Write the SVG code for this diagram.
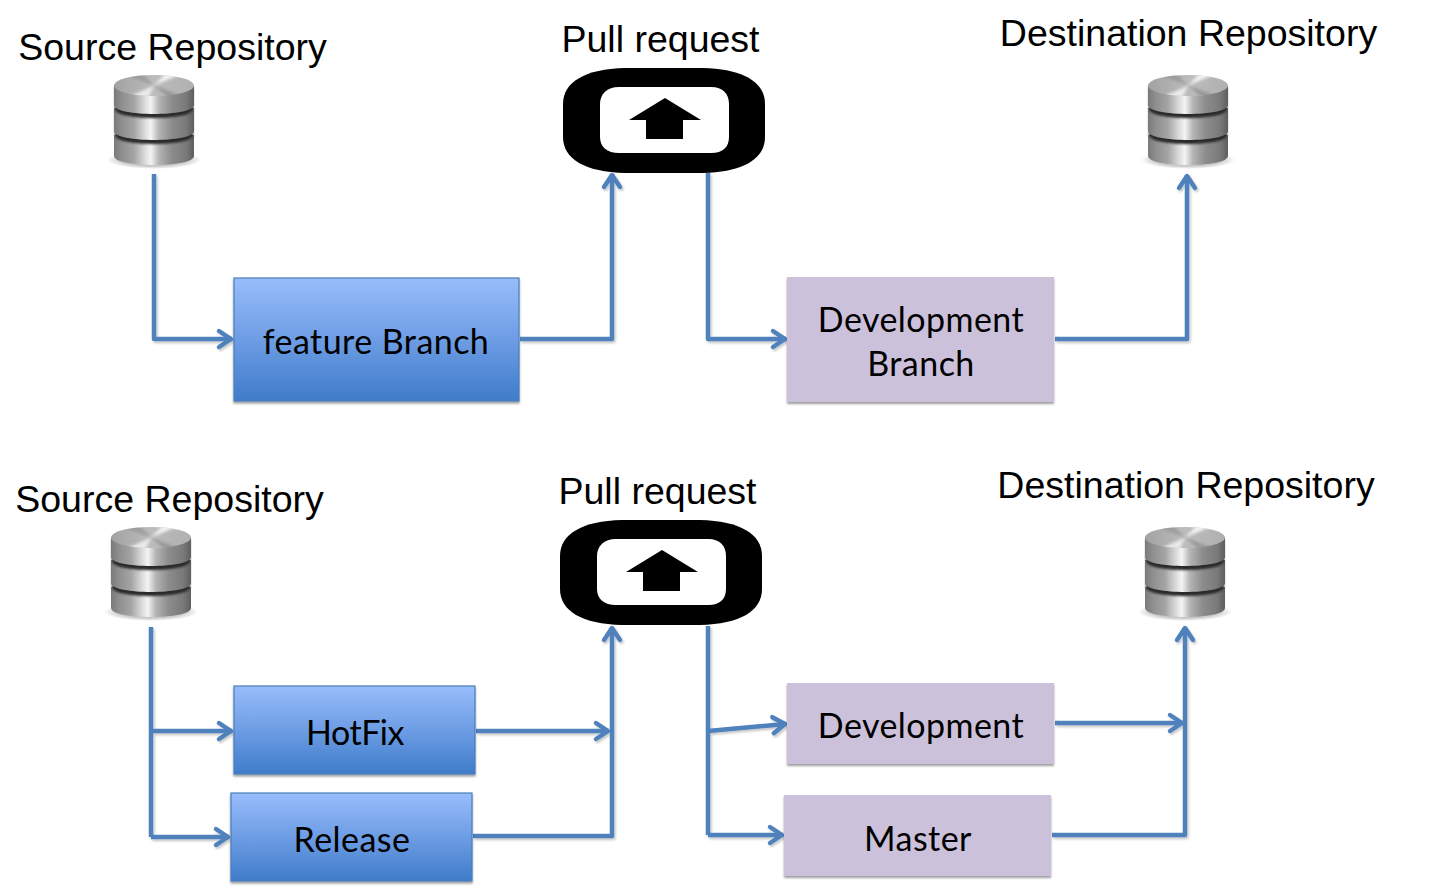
<svg xmlns="http://www.w3.org/2000/svg" xmlns:xlink="http://www.w3.org/1999/xlink" width="1443" height="892" viewBox="0 0 1443 892">
<style>
.title{font-family:"Liberation Sans",Arial,sans-serif;font-size:37.500px;fill:#000;text-anchor:middle}
.lbl{font-family:Lato,"Open Sans",sans-serif;font-size:34px;letter-spacing:.45px;fill:#000;text-anchor:middle}
.blue{fill:url(#bg);stroke:#4a7ebb;stroke-width:1.2;filter:url(#sh)}
.lil{fill:#ccc1da;filter:url(#sh)}
.c{fill:none;stroke:#4f81bd;stroke-width:4.500;stroke-linejoin:round}
</style>
<defs>
<linearGradient id="bg" x1="0" y1="0" x2="0" y2="1"><stop offset="0" stop-color="#98bdfb"/><stop offset=".5" stop-color="#6d9de4"/><stop offset="1" stop-color="#3f7cca"/></linearGradient>
<linearGradient id="metal" x1="0" y1="0" x2="1" y2="0"><stop offset="0" stop-color="#7a7a7a"/><stop offset=".1" stop-color="#8f8f8f"/><stop offset=".25" stop-color="#a4a4a4"/><stop offset=".38" stop-color="#d8d8d8"/><stop offset=".46" stop-color="#f4f4f4"/><stop offset=".56" stop-color="#b5b5b5"/><stop offset=".72" stop-color="#8c8c8c"/><stop offset=".9" stop-color="#7a7a7a"/><stop offset="1" stop-color="#5e5e5e"/></linearGradient>
<linearGradient id="disk" x1="0" y1="0" x2="1" y2="0"><stop offset="0" stop-color="#a2a2a2"/><stop offset=".5" stop-color="#bcbcbc"/><stop offset="1" stop-color="#b0b0b0"/></linearGradient>
<radialGradient id="gl"><stop offset="0" stop-color="#000" stop-opacity=".38"/><stop offset=".7" stop-color="#000" stop-opacity=".2"/><stop offset="1" stop-color="#000" stop-opacity="0"/></radialGradient>
<filter id="sh" filterUnits="userSpaceOnUse" x="0" y="0" width="1443" height="892"><feDropShadow dx="0" dy="2" stdDeviation="1.300" flood-color="#000" flood-opacity=".38"/></filter>
<filter id="csh" filterUnits="userSpaceOnUse" x="0" y="0" width="1443" height="892"><feDropShadow dx="1.500" dy="2" stdDeviation="1.300" flood-color="#000" flood-opacity=".22"/></filter>
<filter id="soft" x="-10%" y="-20%" width="120%" height="140%"><feGaussianBlur stdDeviation=".8"/></filter>
<filter id="wedge" x="-20%" y="-40%" width="140%" height="180%"><feGaussianBlur stdDeviation="1.600"/></filter>
<marker id="ah" markerUnits="userSpaceOnUse" markerWidth="26" markerHeight="26" refX="20" refY="13" orient="auto"><path d="M7 5 L19 13 L7 21" fill="none" stroke="#4f81bd" stroke-width="4.500" stroke-linecap="round" stroke-linejoin="round"/></marker>
<clipPath id="top"><ellipse cx="40" cy="10.500" rx="40" ry="10.500"/></clipPath>
<g id="db">
<ellipse cx="40" cy="85" rx="47" ry="9" fill="url(#gl)"/>
<path d="M0 60 V81 C0 93 80 93 80 81 V60 Z" fill="url(#metal)"/>
<path d="M1 36 V60 C1 72 79 72 79 60 V36 Z" fill="#2a2a2a" filter="url(#soft)"/>
<path d="M0 33 V56 C0 68 80 68 80 56 V33 Z" fill="url(#metal)"/>
<path d="M1 12 V34 C1 46 79 46 79 34 V12 Z" fill="#2a2a2a" filter="url(#soft)"/>
<path d="M0 10 V30 C0 42 80 42 80 30 V10 Z" fill="url(#metal)"/>
<ellipse cx="40" cy="10.500" rx="40" ry="10.500" fill="url(#disk)"/>
<g clip-path="url(#top)"><g filter="url(#wedge)">
<path d="M40 10.500 L6 -2 L28 -2 Z" fill="#8e8e8e" opacity=".6"/>
<path d="M40 10.500 L52 -2 L70 -2 Z" fill="#f2f2f2"/>
<path d="M40 10.500 L10 24 L34 24 Z" fill="#eaeaea"/>
<path d="M40 10.500 L56 24 L76 24 Z" fill="#8a8a8a" opacity=".7"/>
</g></g>
</g>
<g id="pr">
<path d="M62 0 H140 C180 1 202 14 202 36 V69 C202 91 180 104 140 105 H62 C22 104 0 91 0 69 V36 C0 14 22 1 62 0 Z" fill="#000"/>
<path d="M56 19 H148 C160 19 166 26 166 36 V69 C166 79 160 85 148 85 H56 C44 85 37 79 37 69 V36 C37 26 44 19 56 19 Z" fill="#fff"/>
<path d="M102 30 L138 52 H120 V71 H83 V52 H66 Z" fill="#000"/>
</g>
</defs>
<rect width="1443" height="892" fill="#fff"/>
<g id="connectors" filter="url(#csh)">
<path class="c" marker-end="url(#ah)" d="M154 174 V339 H232"/>
<path class="c" marker-end="url(#ah)" d="M520 339 H612 V174"/>
<path class="c" marker-end="url(#ah)" d="M708 173 V339 H786"/>
<path class="c" marker-end="url(#ah)" d="M1055 339 H1187 V175"/>
<path class="c" d="M151 627 V837"/>
<path class="c" marker-end="url(#ah)" d="M151 731 H232"/>
<path class="c" marker-end="url(#ah)" d="M151 837 H229"/>
<path class="c" marker-end="url(#ah)" d="M476 731 H609"/>
<path class="c" marker-end="url(#ah)" d="M473 836 H612 V627"/>
<path class="c" d="M708 626 V835"/>
<path class="c" marker-end="url(#ah)" d="M708 731 L786 724"/>
<path class="c" marker-end="url(#ah)" d="M708 835 H783"/>
<path class="c" marker-end="url(#ah)" d="M1055 723 H1183"/>
<path class="c" marker-end="url(#ah)" d="M1052 835 H1185 V627"/>
</g>
<g id="source1"><text class="title" x="172.500" y="60">Source Repository</text><use href="#db" x="114" y="75"/></g>
<g id="pull1"><text class="title" x="660.500" y="52">Pull request</text><use href="#pr" x="563" y="68"/></g>
<g id="dest1"><text class="title" x="1188.500" y="46">Destination Repository</text><use href="#db" x="1148" y="75"/></g>
<g id="feature"><rect class="blue" x="234" y="278" width="285" height="123"/><text class="lbl" x="376" y="354">feature Branch</text></g>
<g id="devbranch"><rect class="lil" x="787" y="277" width="267" height="125"/><text class="lbl" x="921" y="332">Development</text><text class="lbl" x="921" y="376">Branch</text></g>
<g id="source2"><text class="title" x="169.500" y="512">Source Repository</text><use href="#db" x="111" y="527"/></g>
<g id="pull2"><text class="title" x="657.500" y="504">Pull request</text><use href="#pr" x="560" y="520"/></g>
<g id="dest2"><text class="title" x="1186" y="498">Destination Repository</text><use href="#db" x="1145" y="527"/></g>
<g id="hotfix"><rect class="blue" x="234" y="686" width="241" height="88"/><text class="lbl" x="355" y="745" style="letter-spacing:-.5px">HotFix</text></g>
<g id="release"><rect class="blue" x="231" y="793" width="241" height="88"/><text class="lbl" x="352" y="852">Release</text></g>
<g id="dev"><rect class="lil" x="787" y="683" width="267" height="81"/><text class="lbl" x="921" y="738">Development</text></g>
<g id="master"><rect class="lil" x="784" y="795" width="267" height="81"/><text class="lbl" x="918" y="851">Master</text></g>
</svg>
